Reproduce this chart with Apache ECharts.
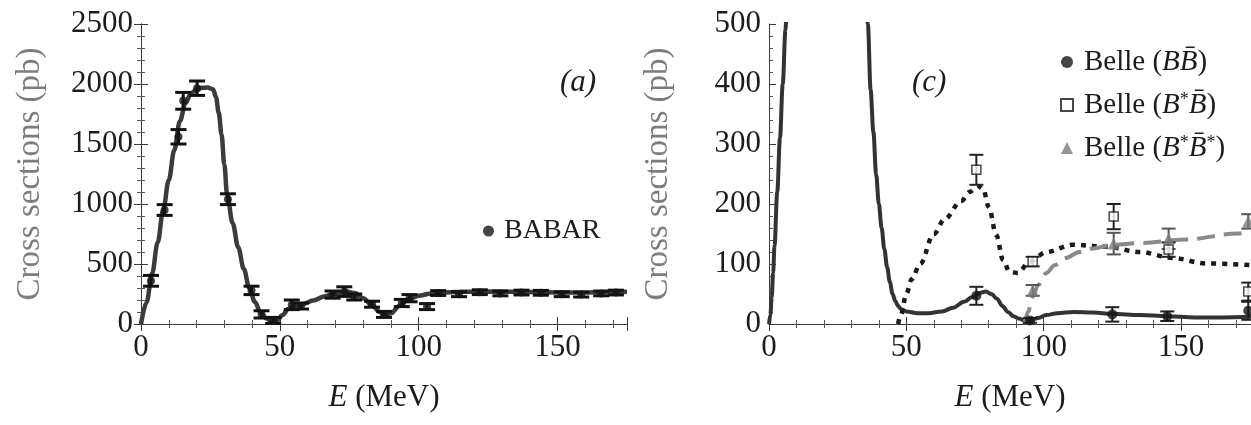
<!DOCTYPE html>
<html>
<head>
<meta charset="utf-8">
<script src="https://cdn.jsdelivr.net/npm/echarts@6/dist/echarts.min.js"></script>
<style>
  html, body { margin: 0; padding: 0; background: #fff; }
  #chart { width: 1251px; height: 425px; }
</style>
</head>
<body>
<div id="chart"></div>
<script>
// ---- panel (a): BABAR data and fit ----
const babarE   = [3.6, 8.5, 13.5, 15.2, 20.2, 31.3, 39.8, 43.4, 47.6, 54.3, 57.6, 69, 73.2, 76.8, 83.2, 87.5, 93.9, 96.7, 103, 107, 114.5, 122, 129.4, 137, 144, 151.5, 158.5, 165.7, 171];
const babarVal = [360, 950, 1560, 1860, 1965, 1040, 280, 80, 30, 160, 150, 245, 270, 225, 165, 80, 175, 215, 145, 258, 248, 265, 255, 262, 260, 248, 245, 255, 262];
const babarErr = [45, 45, 60, 70, 60, 45, 35, 30, 25, 40, 25, 30, 40, 25, 25, 25, 30, 30, 25, 20, 20, 20, 20, 20, 20, 20, 20, 20, 20];

const fitAE   = [0, 2, 4, 6, 8, 10, 12, 14, 16, 18, 20, 22, 24, 26, 27, 28, 29, 30, 31, 33, 35, 37, 39, 41, 43, 45, 47, 49, 51, 53, 55, 58, 62, 66, 70, 74, 77, 80, 83, 86, 88, 90, 93, 96, 100, 104, 108, 115, 125, 135, 145, 155, 165, 175];
const fitAVal = [0, 180, 420, 680, 950, 1200, 1450, 1690, 1840, 1920, 1955, 1968, 1970, 1955, 1890, 1760, 1580, 1330, 1080, 840, 640, 460, 300, 185, 100, 48, 24, 30, 75, 125, 150, 165, 195, 230, 255, 270, 258, 215, 160, 100, 75, 90, 150, 200, 235, 252, 262, 268, 270, 268, 264, 262, 264, 268];

// ---- panel (c): Belle data and fits ----
const bbE    = [75.5, 95, 125, 145, 174.5];
const bbVal  = [47, 6, 16, 13, 22];
const bbErr  = [15, 4, 12, 8, 15];

const bsbE   = [75.5, 96, 125.5, 145.5, 174.5];
const bsbVal = [257, 104, 179, 124, 54];
const bsbErr = [25, 8, 21, 12, 15];

const bsbsE   = [96, 125.5, 145.5, 174.5];
const bsbsVal = [56, 134, 142, 171];
const bsbsErr = [9, 18, 17, 12];

const fitBBE   = [0, 0.5, 1, 1.5, 2, 3, 4, 5, 6, 6.5, 35, 36, 37, 38, 39, 40, 41, 42, 43, 44, 45, 46, 47, 48, 50, 54, 58, 63, 67, 71, 74, 77, 79, 81, 83, 85, 87, 89, 91, 93, 95, 98, 101, 105, 111, 118, 125, 135, 145, 155, 165, 175.5];
const fitBBVal = [0, 15, 45, 85, 130, 220, 310, 400, 490, 535, 600, 500, 390, 320, 250, 200, 160, 125, 95, 70, 50, 38, 30, 25, 21, 18, 18, 21, 27, 37, 45, 52, 54, 50, 42, 30, 20, 13, 9, 6, 6, 10, 15, 18, 20, 19, 17, 15, 13, 11, 11, 12];

const fitBsBE   = [47, 48, 50, 52, 55, 60, 64, 70, 73, 76, 78, 80, 82.8, 85.2, 87.6, 90.6, 94.9, 101, 110.6, 122.8, 135, 147, 159, 175.5];
const fitBsBVal = [0, 15, 50, 75, 100, 150, 175, 205, 220, 230, 225, 195, 148, 107, 87, 85, 104, 120, 132, 129, 120, 110, 101, 98];

const fitBsBsE   = [93, 94.3, 96, 98, 101, 104, 108, 113, 118, 125, 135, 152, 171, 175.5];
const fitBsBsVal = [0, 20, 45, 65, 85, 98, 110, 120, 126, 132, 135, 141, 151, 154];

const serif = 'Liberation Serif';
const ink = '#1c1c1c';

function pairs(xs, ys) {
    return xs.map((x, i) => [x, ys[i]]);
}

/**
 * Vertical error bars with horizontal caps.
 */
function errorBars(name, xs, ys, errs, axisIdx, color, width, cap) {
    return {
        name: name,
        type: 'custom',
        xAxisIndex: axisIdx,
        yAxisIndex: axisIdx,
        z: 3,
        silent: true,
        data: xs.map((x, i) => [x, ys[i] - errs[i], ys[i] + errs[i]]),
        renderItem: function (params, api) {
            const lo = api.coord([api.value(0), api.value(1)]);
            const hi = api.coord([api.value(0), api.value(2)]);
            const style = { stroke: color, lineWidth: width, fill: null };
            return {
                type: 'group',
                children: [
                    { type: 'line', shape: { x1: lo[0], y1: lo[1], x2: hi[0], y2: hi[1] }, style: style },
                    { type: 'line', shape: { x1: lo[0] - cap, y1: lo[1], x2: lo[0] + cap, y2: lo[1] }, style: style },
                    { type: 'line', shape: { x1: hi[0] - cap, y1: hi[1], x2: hi[0] + cap, y2: hi[1] }, style: style }
                ]
            };
        }
    };
}

function fitLine(xs, ys, axisIdx, color, width, dash) {
    return {
        type: 'line',
        xAxisIndex: axisIdx,
        yAxisIndex: axisIdx,
        data: pairs(xs, ys),
        showSymbol: false,
        smooth: 0.35,
        smoothMonotone: 'x',
        silent: true,
        z: 2,
        lineStyle: { color: color, width: width, type: dash || 'solid', cap: 'butt' }
    };
}

const frame = { show: true, lineStyle: { color: '#3a3a3a', width: 1 } };
const tick = { show: true, inside: true, length: 7, lineStyle: { color: '#3a3a3a', width: 1 } };
const minor = { show: true, splitNumber: 5, length: 4, lineStyle: { color: '#555', width: 1 } };
const tickLabel = { fontFamily: serif, fontSize: 31, color: ink, margin: 8, showMaxLabel: false, formatter: v => String(v) };

function xAx(grid, max, pos, labels) {
    return {
        gridIndex: grid, type: 'value', min: 0, max: max, interval: 50, position: pos,
        axisLine: frame, axisTick: tick, minorTick: minor, splitLine: { show: false },
        axisLabel: labels ? tickLabel : { show: false },
        name: labels ? '{i|E} (MeV)' : '',
        nameLocation: 'middle', nameGap: 58,
        nameTextStyle: {
            fontFamily: serif, fontSize: 31, color: ink,
            rich: { i: { fontFamily: serif, fontSize: 31, fontStyle: 'italic', color: ink } }
        }
    };
}

function yAx(grid, max, interval, pos, labels, visible) {
    return {
        gridIndex: grid, type: 'value', min: 0, max: max, interval: interval, position: pos,
        show: visible !== false,
        axisLine: frame, axisTick: tick, minorTick: minor, splitLine: { show: false },
        axisLabel: labels ? Object.assign({}, tickLabel, { showMaxLabel: true }) : { show: false },
        name: labels ? 'Cross sections (pb)' : '',
        nameLocation: 'middle', nameGap: 94, nameRotate: 90,
        nameTextStyle: { fontFamily: serif, fontSize: 33, color: '#7d7d7d' }
    };
}

const legendRich = {
    i: { fontFamily: serif, fontSize: 29, fontStyle: 'italic', color: ink },
    s: { fontFamily: serif, fontSize: 18, color: ink, padding: [0, 0, 10, 0] }
};
const legendText = {
    'BABAR': 'BABAR',
    'Belle BB': 'Belle ({i|BB\u0304})',
    'Belle B*B': 'Belle ({i|B}{s|*}{i|B\u0304})',
    'Belle B*B*': 'Belle ({i|B}{s|*}{i|B\u0304}{s|*})'
};

const option = {
    backgroundColor: '#fff',
    animation: false,
    grid: [
        { left: 141, top: 24, width: 486, height: 300 },
        { left: 769, top: 24, right: 0, height: 300 }
    ],
    xAxis: [
        xAx(0, 175, 'bottom', true),
        xAx(0, 175, 'top', false),
        xAx(1, 175.5, 'bottom', true),
        xAx(1, 175.5, 'top', false)
    ],
    yAxis: [
        yAx(0, 2500, 500, 'left', true),
        yAx(0, 2500, 500, 'right', false),
        yAx(1, 500, 100, 'left', true),
        yAx(1, 500, 100, 'right', false, false)
    ],
    legend: [
        {
            data: ['BABAR'], left: 478, top: 212,
            itemWidth: 11, itemHeight: 11,
            formatter: n => legendText[n],
            textStyle: { fontFamily: serif, fontSize: 28, color: ink, padding: [0, 0, 0, 5], rich: legendRich }
        },
        {
            data: ['Belle BB', 'Belle B*B', 'Belle B*B*'],
            orient: 'vertical', left: 1055, top: 41, itemGap: 11,
            itemWidth: 12, itemHeight: 12,
            formatter: n => legendText[n],
            textStyle: { fontFamily: serif, fontSize: 29, color: ink, lineHeight: 32, padding: [0, 0, 0, 6], rich: legendRich }
        }
    ],
    graphic: [
        { type: 'text', left: 560, top: 67, style: { text: '(a)', font: 'italic 31px "Liberation Serif"', fill: ink } },
        { type: 'text', left: 912, top: 67, style: { text: '(c)', font: 'italic 31px "Liberation Serif"', fill: ink } }
    ],
    series: [
        // panel (a)
        fitLine(fitAE, fitAVal, 0, '#3b3b3b', 4.5),
        errorBars('BABAR err', babarE, babarVal, babarErr, 0, '#111', 3, 8),
        {
            name: 'BABAR', type: 'scatter', xAxisIndex: 0, yAxisIndex: 0, z: 4,
            data: pairs(babarE, babarVal), symbol: 'circle', symbolSize: 8,
            itemStyle: { color: '#151515' }
        },
        // panel (c)
        fitLine(fitBBE, fitBBVal, 2, '#333', 4),
        fitLine(fitBsBE, fitBsBVal, 2, '#1a1a1a', 4.5, [5, 6]),
        fitLine(fitBsBsE, fitBsBsVal, 2, '#8a8a8a', 4, [18, 9]),
        errorBars('bb err', bbE, bbVal, bbErr, 2, '#222', 2, 7),
        errorBars('bsb err', bsbE, bsbVal, bsbErr, 2, '#222', 2, 7),
        errorBars('bsbs err', bsbsE, bsbsVal, bsbsErr, 2, '#555', 2, 7),
        {
            name: 'Belle BB', type: 'scatter', xAxisIndex: 2, yAxisIndex: 2, z: 4,
            data: pairs(bbE, bbVal), symbol: 'circle', symbolSize: 10,
            itemStyle: { color: '#151515' }
        },
        {
            name: 'Belle B*B', type: 'scatter', xAxisIndex: 2, yAxisIndex: 2, z: 4,
            data: pairs(bsbE, bsbVal), symbol: 'rect', symbolSize: 9,
            itemStyle: { color: '#fff', borderColor: '#1a1a1a', borderWidth: 1.5 }
        },
        {
            name: 'Belle B*B*', type: 'scatter', xAxisIndex: 2, yAxisIndex: 2, z: 4,
            data: pairs(bsbsE, bsbsVal), symbol: 'triangle', symbolSize: 12,
            itemStyle: { color: '#7a7a7a' }
        }
    ]
};

const chart = echarts.init(document.getElementById('chart'));
chart.setOption(option);
</script>
</body>
</html>
